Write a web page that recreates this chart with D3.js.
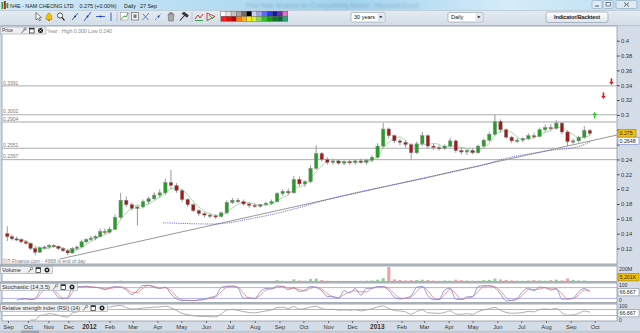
<!DOCTYPE html>
<html><head><meta charset="utf-8">
<script src="https://cdn.jsdelivr.net/npm/d3@7"></script>
<style>
html,body{margin:0;padding:0;background:#d4dde7;}
svg{display:block;font-family:"Liberation Sans",Arial,sans-serif;}
</style></head><body>
<svg id="c" width="640" height="333"></svg>
<script>
// ---------------- DATA (weekly candles) ----------------
const firstWeek = new Date(2011, 7, 29); // Monday of first week shown
const opens = [.140,.136,.133,.132,.129,.127,.120,.115,.121,.122,
 .124,.123,.120,.117,.114,.120,.122,.129,.132,.134,
 .136,.143,.142,.146,.162,.185,.179,.174,.176,.183,
 .187,.192,.195,.209,.205,.198,.186,.179,.171,.167,
 .165,.164,.163,.168,.182,.185,.183,.180,.178,.177,
 .179,.181,.183,.194,.197,.195,.213,.207,.210,.228,
 .248,.240,.236,.238,.235,.237,.236,.238,.236,.239,
 .243,.258,.281,.272,.265,.263,.260,.249,.261,.272,
 .258,.256,.255,.258,.265,.252,.250,.252,.249,.258,
 .266,.274,.291,.280,.270,.265,.266,.268,.272,.271,
 .280,.283,.282,.289,.277,.264,.265,.270,.279];
const highs = [.150,.139,.136,.134,.131,.128,.122,.123,.124,.126,
 .126,.124,.121,.119,.122,.124,.132,.134,.137,.138,
 .147,.147,.149,.166,.195,.190,.182,.178,.186,.190,
 .196,.200,.214,.226,.208,.200,.188,.181,.173,.169,
 .167,.166,.170,.185,.188,.188,.186,.182,.181,.180,
 .183,.186,.196,.200,.201,.218,.217,.212,.232,.259,
 .250,.243,.240,.240,.239,.240,.240,.241,.241,.246,
 .262,.289,.283,.274,.268,.266,.262,.264,.277,.274,
 .261,.259,.260,.269,.267,.256,.254,.255,.260,.268,
 .277,.300,.294,.282,.272,.269,.270,.275,.276,.283,
 .287,.288,.293,.290,.279,.268,.272,.285,.281];
const lows = [.130,.131,.130,.127,.125,.118,.111,.114,.119,.120,
 .121,.118,.115,.111,.113,.117,.121,.127,.130,.131,
 .135,.139,.140,.145,.160,.176,.171,.151,.174,.180,
 .185,.188,.192,.200,.195,.183,.176,.169,.164,.162,
 .161,.160,.162,.166,.180,.181,.178,.175,.175,.175,
 .177,.179,.182,.191,.192,.194,.204,.203,.208,.226,
 .237,.233,.233,.233,.232,.233,.233,.234,.233,.236,
 .241,.256,.268,.262,.259,.256,.239,.247,.258,.255,
 .253,.252,.253,.256,.249,.247,.246,.247,.248,.256,
 .264,.272,.276,.268,.262,.262,.263,.266,.268,.270,
 .277,.279,.280,.274,.258,.261,.263,.268,.272];
const closes = [.136,.133,.132,.129,.127,.120,.115,.121,.122,.124,
 .123,.120,.117,.114,.120,.122,.129,.132,.134,.136,
 .143,.142,.146,.162,.185,.179,.174,.176,.183,.187,
 .192,.195,.209,.205,.198,.186,.179,.171,.167,.165,
 .164,.163,.168,.182,.185,.183,.180,.178,.177,.179,
 .181,.183,.194,.197,.195,.213,.207,.210,.228,.248,
 .240,.236,.238,.235,.237,.236,.238,.236,.239,.243,
 .258,.281,.272,.265,.263,.260,.249,.261,.272,.258,
 .256,.255,.258,.265,.252,.250,.252,.249,.258,.266,
 .274,.291,.280,.270,.265,.266,.268,.272,.271,.280,
 .283,.282,.289,.277,.264,.265,.270,.279,.275];
const volumesM = [3,2,1,2,1,2,3,1,1,2, 1,1,2,1,2,3,2,3,4,2, 3,2,4,5,12,6,4,5,3,4,
 3,6,8,5,3,4,3,2,2,3, 2,3,6,4,3,2,2,3,3,
 4,5,6,18,10,8,30,14,10,35, 40,20,12,8,10,9,8,7,10,12, 15,25,45,210,30,20,15,18,20,25,
 20,12,10,14,12,25,18,14,12,10, 20,22,40,28,22,16,12,10,14,20, 15,12,18,25,16,40,22,15,14,5.2];
const levelValues = [0.3391, 0.3002, 0.2904, 0.2551, 0.2397];
const priceTicks = [0.12,0.14,0.16,0.18,0.2,0.22,0.24,0.26,0.28,0.3,0.32,0.34,0.36,0.38,0.4];
const trendDates = [new Date(2011,10,18), new Date(2013,9,29)];
const trendPrices = [0.1058, 0.2729];
const slowLineDates = [new Date(2012,3,8),new Date(2012,5,10),new Date(2012,6,30),new Date(2012,8,18),
 new Date(2012,9,22),new Date(2012,11,2),new Date(2013,0,14),new Date(2013,1,24),new Date(2013,3,7),
 new Date(2013,4,19),new Date(2013,5,4),new Date(2013,7,2),new Date(2013,8,13),new Date(2013,8,27)];
const slowLineValues = [0.1547,0.1530,0.1607,0.1728,0.1833,0.1943,0.2042,0.2132,0.2234,0.2338,0.2392,0.2513,0.2581,0.2648];
const signalDates = [new Date(2013,9,1), new Date(2013,9,12), new Date(2013,9,22)];
const signalPrices = [0.300, 0.3255, 0.3443];
const signalDirs = ["up","down","down"];
const monthTicks = d3.timeMonth.range(new Date(2011,8,1), new Date(2013,9,2));

// ---------------- SETUP ----------------
const svg = d3.select("#c");
const defs = svg.append("defs");
const PL = 2, PR = 617;
const x = d3.scaleTime()
  .domain([new Date(2011,7,23), new Date(2012,1,1), new Date(2013,9,29)])
  .range([PL, 109.5, PR]);
const y = d3.scaleLinear().domain([0.12, 0.40]).range([248.5, 40.7]);
const dates = closes.map((_, i) => d3.timeDay.offset(firstWeek, 7 * i + 2));
const P = {price:[26,264], vol:[266,281.5], sto:[283,302.5], rsi:[304,321]};

svg.append("rect").attr("width",640).attr("height",333).attr("fill","#d4dde7");

// title bar
const tg = defs.append("linearGradient").attr("id","tg");
[[0,"#d2e9f6"],[0.35,"#b3dcf2"],[0.55,"#a2d4f0"],[0.8,"#d6ecf8"],[1,"#b9ddf0"]]
  .forEach(([o,c]) => tg.append("stop").attr("offset",o).attr("stop-color",c));
svg.append("rect").attr("width",640).attr("height",10).attr("fill","url(#tg)");
defs.append("filter").attr("id","blr").append("feGaussianBlur").attr("stdDeviation",0.8);
svg.append("text").attr("x",246).attr("y",7.5).attr("font-size",6.5).attr("fill","#6f8ea3")
  .attr("opacity",0.55).attr("filter","url(#blr)").text("First Rate Brokers.xls  [Compatibility Mode]  -  Microsoft Excel");
const ti = svg.append("g");
[[1.5,2,"#2f9e2f",7],[4,1,"#c02020",8],[6.5,3,"#2f9e2f",5]].forEach(([xx,yy,c,h]) =>
  ti.append("rect").attr("x",xx).attr("y",yy).attr("width",1.8).attr("height",h).attr("fill",c));
const tt = svg.append("g").attr("font-size",5.4).attr("fill","#1b1b1b");
tt.append("text").attr("x",10).attr("y",7.6).text("N4E - NAM CHEONG LTD");
tt.append("text").attr("x",79.5).attr("y",7.6).text("0.275 (+0.00%)");
tt.append("text").attr("x",124).attr("y",7.6).text("Daily");
tt.append("text").attr("x",140).attr("y",7.6).text("27 Sep");
[[592,10],[603,10],[616,21]].forEach(([bx,bw],i) => {
  svg.append("rect").attr("x",bx).attr("y",0.5).attr("width",bw).attr("height",8).attr("rx",1.5)
    .attr("fill", i===2 ? "#dfe9f2" : "#e2ecf4").attr("stroke","#8aa3b8").attr("stroke-width",0.6);
});
svg.append("line").attr("x1",595).attr("x2",599).attr("y1",6).attr("y2",6).attr("stroke","#456").attr("stroke-width",1);
svg.append("rect").attr("x",606).attr("y",2.5).attr("width",4.5).attr("height",3.5).attr("fill","none").attr("stroke","#456").attr("stroke-width",0.7);
svg.append("path").attr("d","M624,2.5 L629,6.5 M629,2.5 L624,6.5").attr("stroke","#456").attr("stroke-width",0.9);

// toolbar
const tbg = defs.append("linearGradient").attr("id","tbg").attr("x1",0).attr("x2",0).attr("y1",0).attr("y2",1);
[[0,"#e4ebf2"],[1,"#d3dde7"]].forEach(([o,c]) => tbg.append("stop").attr("offset",o).attr("stop-color",c));
svg.append("rect").attr("y",10).attr("width",640).attr("height",16).attr("fill","url(#tbg)");
svg.append("line").attr("x1",0).attr("x2",640).attr("y1",10.5).attr("y2",10.5).attr("stroke","#a9bccb").attr("stroke-width",0.6);
const tb = svg.append("g");
tb.append("path").attr("d","M36,12.5 L36,20 L38,18.3 L39.5,21 L40.5,20.4 L39.2,17.8 L41.5,17.6 Z").attr("fill","#fff").attr("stroke","#333").attr("stroke-width",0.6);
tb.append("path").attr("d","M46,19.5 Q46.5,13 49,13 Q51.5,13 52,19.5 Z").attr("fill","#f2c200").attr("stroke","#9a7a00").attr("stroke-width",0.5);
tb.append("circle").attr("cx",49).attr("cy",20.3).attr("r",0.9).attr("fill","#9a7a00");
tb.append("circle").attr("cx",60).attr("cy",15.5).attr("r",2.6).attr("fill","#eef6ff").attr("stroke","#333").attr("stroke-width",0.8);
tb.append("line").attr("x1",62).attr("y1",17.5).attr("x2",64.5).attr("y2",20.5).attr("stroke","#333").attr("stroke-width",1.2);
[[72,20,78,13],[84,21,91,12]].forEach(([a,b,c,d]) => {
  tb.append("line").attr("x1",a).attr("y1",b).attr("x2",c).attr("y2",d).attr("stroke","#2050d0").attr("stroke-width",0.9);
  tb.append("circle").attr("cx",(a+c)/2).attr("cy",(b+d)/2).attr("r",0.9).attr("fill","#103090");
});
tb.append("line").attr("x1",96).attr("x2",105).attr("y1",16.5).attr("y2",16.5).attr("stroke","#2050d0").attr("stroke-width",0.9);
tb.append("circle").attr("cx",100.5).attr("cy",16.5).attr("r",0.9).attr("fill","#103090");
tb.append("line").attr("x1",111).attr("x2",111).attr("y1",12.5).attr("y2",21).attr("stroke","#2050d0").attr("stroke-width",0.9);
tb.append("line").attr("x1",117).attr("x2",117).attr("y1",12).attr("y2",22).attr("stroke","#aab").attr("stroke-width",0.6);
tb.append("rect").attr("x",120.5).attr("y",12.5).attr("width",7.5).attr("height",7.5).attr("fill","#fff").attr("stroke","#888").attr("stroke-width",0.5);
tb.append("path").attr("d","M121,19.5 L124,16 L126,17 L128,13").attr("fill","none").attr("stroke","#2a9a2a").attr("stroke-width",0.9);
tb.append("rect").attr("x",131.5).attr("y",12.5).attr("width",7).attr("height",7.5).attr("fill","#f4f4f4").attr("stroke","#555").attr("stroke-width",0.6);
tb.append("rect").attr("x",133.5).attr("y",14.5).attr("width",3).attr("height",3.5).attr("fill","#777");
tb.append("path").attr("d","M142.5,20 L149,13 M143,14 L148.5,20").attr("stroke","#4a6ad8").attr("stroke-width",0.9);
tb.append("path").attr("d","M155,20 L162,13").attr("stroke","#4a6ad8").attr("stroke-width",0.9).attr("stroke-dasharray","1.2,0.8");
tb.append("circle").attr("cx",158.5).attr("cy",16.5).attr("r",1).attr("fill","#1a3ab0");
tb.append("path").attr("d","M168,14 L174,14 L173.3,21 L168.7,21 Z").attr("fill","#a8a8a8").attr("stroke","#555").attr("stroke-width",0.5);
tb.append("rect").attr("x",169.5).attr("y",12.5).attr("width",3).attr("height",1.2).attr("fill","#555");
tb.append("path").attr("d","M180,20.5 L184.5,15.5 M182.5,13.5 L187,17 L188,15.5 L184,12.5 Z").attr("stroke","#333").attr("fill","#444").attr("stroke-width",1.1);
tb.append("line").attr("x1",192).attr("x2",192).attr("y1",12).attr("y2",22).attr("stroke","#aab").attr("stroke-width",0.6);
tb.append("path").attr("d","M195,19 L198,15 L200,18 L203,14").attr("fill","none").attr("stroke","#c02020").attr("stroke-width",0.9);
tb.append("line").attr("x1",195).attr("x2",203).attr("y1",20.5).attr("y2",20.5).attr("stroke","#2a9a2a").attr("stroke-width",0.9);
tb.append("path").attr("d","M207,13 L215,16.5 L207,20.5 Z").attr("fill","none").attr("stroke","#c02020").attr("stroke-width",0.8);
tb.append("path").attr("d","M209,15 L213,19").attr("stroke","#2a9a2a").attr("stroke-width",0.8);
const pal1 = ["#ffffff","#e4e4e4","#c4c4c4","#a4a4a4","#6a6a6a","#000000","#c8ccff","#98a4ff","#5a6cff","#2a3ae0","#1418a8","#6a2aa8","#e070c8"];
const pal2 = ["#ff1a1a","#e01010","#b80000","#ff7a10","#ffb020","#ffee00","#d0f040","#80dc50","#30c030","#10a010","#087a20","#106040","#20a878"];
svg.append("rect").attr("x",220.5).attr("y",11).attr("width",67.5).attr("height",10.6).attr("fill","#666");
[pal1, pal2].forEach((row, r) => row.forEach((c, i) =>
  svg.append("rect").attr("x",221 + i*5.15).attr("y",11.5 + r*5.1).attr("width",4.7).attr("height",4.6).attr("fill",c)));
function dropdown(x0, w, label) {
  svg.append("rect").attr("x",x0).attr("y",12.5).attr("width",w).attr("height",9.5).attr("rx",1.5)
    .attr("fill","#fff").attr("stroke","#8d9aa8").attr("stroke-width",0.6);
  svg.append("rect").attr("x",x0+w-7.5).attr("y",13.5).attr("width",6.5).attr("height",7.5).attr("fill","#dfe6ee");
  svg.append("path").attr("d",`M${x0+w-5.8},16.2 L${x0+w-2.6},16.2 L${x0+w-4.2},18.2 Z`).attr("fill","#222");
  svg.append("text").attr("x",x0+3).attr("y",19.3).attr("font-size",5.5).attr("fill","#111").text(label);
}
dropdown(351, 34, "30 years");
dropdown(448, 35, "Daily");
const bg = defs.append("linearGradient").attr("id","btn").attr("x1",0).attr("x2",0).attr("y1",0).attr("y2",1);
[[0,"#ffffff"],[1,"#dde4ec"]].forEach(([o,c]) => bg.append("stop").attr("offset",o).attr("stop-color",c));
svg.append("rect").attr("x",546).attr("y",12).attr("width",62).attr("height",10.5).attr("rx",2.2)
  .attr("fill","url(#btn)").attr("stroke","#8793a2").attr("stroke-width",0.6);
svg.append("text").attr("x",577).attr("y",19.4).attr("text-anchor","middle").attr("font-size",5.6)
  .attr("font-weight","bold").attr("fill","#222").attr("textLength",46).text("Indicator/Backtest");
svg.append("line").attr("x1",0).attr("x2",640).attr("y1",25.7).attr("y2",25.7).attr("stroke","#9fb0c0").attr("stroke-width",0.6);

// ---------------- PANELS ----------------
Object.values(P).forEach(([t,b]) => {
  svg.append("rect").attr("x",PL).attr("y",t).attr("width",PR-PL).attr("height",b-t)
    .attr("fill","#fff").attr("stroke","#8f9aa6").attr("stroke-width",0.8);
});
[[264,266],[281.5,283],[302.5,304]].forEach(([a,b]) =>
  svg.append("rect").attr("x",0).attr("y",a).attr("width",PR).attr("height",b-a).attr("fill","#a9b1ba"));
Object.entries(P).forEach(([k,[t,b]]) => {
  defs.append("clipPath").attr("id","cl-"+k).append("rect").attr("x",PL).attr("y",t).attr("width",PR-PL).attr("height",b-t);
});

// ---------------- PRICE PANEL ----------------
const gp = svg.append("g").attr("clip-path","url(#cl-price)");
levelValues.forEach(v => {
  gp.append("line").attr("x1",PL).attr("x2",PR).attr("y1",y(v)).attr("y2",y(v))
    .attr("stroke", v===0.2904 ? "#c4c4c4" : "#a2a2a2").attr("stroke-width", v===0.2904 ? 1.6 : 0.9);
  gp.append("text").attr("x",3).attr("y",y(v)-1.3).attr("font-size",5).attr("fill","#7a7a7a").text(v.toFixed(4));
});
gp.append("line").attr("x1",x(trendDates[0])).attr("y1",y(trendPrices[0]))
  .attr("x2",x(trendDates[1])).attr("y2",y(trendPrices[1])).attr("stroke","#8b8b8b").attr("stroke-width",0.9);
gp.append("path").datum(slowLineDates.map((d,i)=>[d, slowLineValues[i]]))
  .attr("d", d3.line().x(d=>x(d[0])).y(d=>y(d[1])).curve(d3.curveMonotoneX))
  .attr("fill","none").attr("stroke","#5c5ce0").attr("stroke-width",0.9).attr("stroke-dasharray","1.1,1.1");
const ma = closes.map((c,i) => i < 3 ? null : d3.mean(closes.slice(i-3, i+1)));
gp.append("path").datum(ma)
  .attr("d", d3.line().defined(d=>d!=null).x((d,i)=>x(dates[i])).y(d=>y(d)).curve(d3.curveMonotoneX))
  .attr("fill","none").attr("stroke","#93cf93").attr("stroke-width",0.8);
const cw = 3.4;
const cg = gp.selectAll("g.c").data(closes).join("g");
cg.append("line").attr("x1",(d,i)=>x(dates[i])).attr("x2",(d,i)=>x(dates[i]))
  .attr("y1",(d,i)=>y(highs[i])).attr("y2",(d,i)=>y(lows[i])).attr("stroke","#999").attr("stroke-width",1);
cg.append("rect").attr("x",(d,i)=>x(dates[i])-cw/2).attr("width",cw)
  .attr("y",(d,i)=>y(Math.max(opens[i],closes[i])))
  .attr("height",(d,i)=>Math.max(1.2, Math.abs(y(opens[i])-y(closes[i]))))
  .attr("fill",(d,i)=> closes[i] >= opens[i] ? "#23a023" : "#a31818")
  .attr("stroke","#8a8a8a").attr("stroke-width",0.5);
signalDates.forEach((d,i) => {
  const cx = x(d), cy = y(signalPrices[i]);
  const up = signalDirs[i] === "up";
  const s = up ? -1 : 1;
  const col = up ? "#22cc22" : "#e01818";
  svg.append("path").attr("d",`M${cx-0.8},${cy-3.5*s} L${cx+0.8},${cy-3.5*s} L${cx+0.8},${cy} L${cx+2.2},${cy} L${cx},${cy+3*s} L${cx-2.2},${cy} L${cx-0.8},${cy} Z`)
    .attr("fill",col);
});
function header(y0, w, label, tl) {
  const g = svg.append("g");
  g.append("rect").attr("x",0.5).attr("y",y0).attr("width",w).attr("height",7).attr("fill","#eef0f3").attr("stroke","#9ba4ae").attr("stroke-width",0.6);
  g.append("text").attr("x",2).attr("y",y0+5.4).attr("font-size",5).attr("fill","#333").attr("textLength",tl).attr("lengthAdjust","spacingAndGlyphs").text(label);
  const ix = w - 25;
  g.append("path").attr("d",`M${ix+1},${y0+6} L${ix+4},${y0+2.5}`).attr("stroke","#555").attr("stroke-width",0.8);
  g.append("circle").attr("cx",ix+4.6).attr("cy",y0+2).attr("r",1.2).attr("fill","none").attr("stroke","#555").attr("stroke-width",0.6);
  g.append("rect").attr("x",ix+9).attr("y",y0+1.2).attr("width",4.6).attr("height",4.8).attr("fill","#fff").attr("stroke","#222").attr("stroke-width",0.7);
  g.append("rect").attr("x",ix+9).attr("y",y0+1.2).attr("width",4.6).attr("height",1.2).attr("fill","#222");
  g.append("circle").attr("cx",ix+20).attr("cy",y0+3.5).attr("r",2.5).attr("fill","#222");
  g.append("path").attr("d",`M${ix+18.9},${y0+2.4} L${ix+21.1},${y0+4.6} M${ix+21.1},${y0+2.4} L${ix+18.9},${y0+4.6}`).attr("stroke","#fff").attr("stroke-width",0.7);
}
header(27, 45.5, "Price", 11);
svg.append("text").attr("x",47).attr("y",32.6).attr("font-size",5.3).attr("fill","#8a8a8a").attr("textLength",65).text("Year : High 0.300 Low 0.240");
svg.append("text").attr("x",2.5).attr("y",262.6).attr("font-size",5).attr("fill","#7a7a7a").attr("textLength",83).text("©IT-Finance.com - 4968 is end of day");

const lastClose = closes[closes.length-1], lastSlow = slowLineValues[slowLineValues.length-1];
const ax = svg.append("g").attr("transform",`translate(${PR},0)`)
  .call(d3.axisRight(y).tickValues(priceTicks).tickSize(2.5).tickPadding(1.5)
    .tickFormat(d => (Math.abs(d-lastClose) < 0.008 || Math.abs(d-lastSlow) < 0.008) ? "" : String(+d.toFixed(2))));
ax.select(".domain").remove();
ax.selectAll("line").attr("stroke","#444");
ax.selectAll("text").attr("font-size",5.8).attr("fill","#333").attr("font-family","Liberation Sans, Arial, sans-serif");
function valBox(yy, txt, fill, stroke, w) {
  svg.append("rect").attr("x",618).attr("y",yy-3.8).attr("width",w).attr("height",7.4).attr("fill",fill).attr("stroke",stroke).attr("stroke-width",0.6);
  svg.append("text").attr("x",619.5).attr("y",yy+1.9).attr("font-size",5.3).attr("fill","#222").text(txt);
}
valBox(y(lastClose), "0.275", "#f4c20d", "#9c7c00", 18);
valBox(y(lastSlow), "0.2648", "#ffffff", "#6a7fd0", 21);

// ---------------- VOLUME ----------------
const yV = d3.scaleLinear().domain([0,200]).range([P.vol[1], P.vol[0]+1]).clamp(true);
const gv = svg.append("g").attr("clip-path","url(#cl-vol)");
gv.selectAll("rect").data(volumesM).join("rect")
  .attr("x",(d,i)=>x(dates[i])-1.5).attr("width",3)
  .attr("y",d=>yV(d)).attr("height",d=>P.vol[1]-yV(d))
  .attr("fill",(d,i)=> closes[i] >= opens[i] ? "#8fd08f" : "#f3a0a0");
header(266.5, 52, "Volume", 19);
svg.append("text").attr("x",619).attr("y",271).attr("font-size",5.3).attr("fill","#333").text("200M");
valBox(277.3, "5,201K", "#f4c20d", "#9c7c00", 21);

// ---------------- STOCHASTIC ----------------
const yS = d3.scaleLinear().domain([0,100]).range([P.sto[1]-0.5, P.sto[0]+1]);
const stoK = closes.map((c,i) => {
  if (i < 2) return null;
  const lo = d3.min(lows.slice(i-2,i+1)), hi = d3.max(highs.slice(i-2,i+1));
  return hi > lo ? 100*(c-lo)/(hi-lo) : 50;
});
const stoD = stoK.map((v,i) => (i < 3) ? null : (stoK[i] + stoK[i-1]) / 2);
const gs = svg.append("g").attr("clip-path","url(#cl-sto)");
[80,20].forEach(v => gs.append("line").attr("x1",PL).attr("x2",PR).attr("y1",yS(v)).attr("y2",yS(v)).attr("stroke","#a9a9ee").attr("stroke-width",0.9));
const lineS = d3.line().defined(d=>d!=null).x((d,i)=>x(dates[i])).y(d=>yS(d)).curve(d3.curveMonotoneX);
gs.append("path").datum(stoD).attr("d",lineS).attr("fill","none").attr("stroke","#f08a8a").attr("stroke-width",0.9);
gs.append("path").datum(stoK).attr("d",lineS).attr("fill","none").attr("stroke","#7f86c8").attr("stroke-width",0.8);
header(283.5, 77, "Stochastic (14,3,5)", 48);
svg.append("text").attr("x",619).attr("y",287.2).attr("font-size",5).attr("fill","#333").text("100");
valBox(292.3, "66.667", "#ffffff", "#7d8aa0", 21);
svg.append("text").attr("x",619).attr("y",301.6).attr("font-size",5).attr("fill","#333").text("0");

// ---------------- RSI ----------------
function rsi(cl, n) {
  const out = cl.map(() => null);
  let g = 0, l = 0;
  for (let i = 1; i <= n; i++) { const d = cl[i]-cl[i-1]; if (d > 0) g += d; else l -= d; }
  g /= n; l /= n; out[n] = l === 0 ? 100 : 100 - 100/(1+g/l);
  for (let i = n+1; i < cl.length; i++) {
    const d = cl[i]-cl[i-1];
    g = (g*(n-1) + Math.max(d,0))/n; l = (l*(n-1) + Math.max(-d,0))/n;
    out[i] = l === 0 ? 100 : 100 - 100/(1+g/l);
  }
  return out;
}
const rsiVals = rsi(closes, 5);
const yR = d3.scaleLinear().domain([0,100]).range([P.rsi[1]-1, P.rsi[0]+1]);
const gr = svg.append("g").attr("clip-path","url(#cl-rsi)");
[70,30].forEach(v => gr.append("line").attr("x1",PL).attr("x2",PR).attr("y1",yR(v)).attr("y2",yR(v)).attr("stroke","#a9a9ee").attr("stroke-width",0.9));
gr.append("path").datum(rsiVals)
  .attr("d", d3.line().defined(d=>d!=null).x((d,i)=>x(dates[i])).y(d=>yR(d)).curve(d3.curveMonotoneX))
  .attr("fill","none").attr("stroke","#9a9a9a").attr("stroke-width",0.8);
header(304.5, 107, "Relative strength index (RSI) (14)", 78);
svg.append("text").attr("x",619).attr("y",308.2).attr("font-size",5).attr("fill","#333").text("100");
valBox(313.3, "66.667", "#ffffff", "#7d8aa0", 21);
svg.append("text").attr("x",619).attr("y",321.5).attr("font-size",5).attr("fill","#333").text("0");

// ---------------- X AXIS ----------------
const xa = svg.append("g").attr("transform",`translate(0,${P.rsi[1]})`)
  .call(d3.axisBottom(x).tickValues(monthTicks).tickSize(2).tickPadding(1.5)
    .tickFormat(d => d.getMonth() === 0 ? d3.timeFormat("%Y")(d) : d3.timeFormat("%b")(d)));
xa.select(".domain").remove();
xa.selectAll("line").attr("stroke","#666");
xa.selectAll("text").attr("fill","#333").attr("font-family","Liberation Sans, Arial, sans-serif")
  .attr("font-weight", d => d.getMonth() === 0 ? "bold" : "normal")
  .attr("font-size", d => d.getMonth() === 0 ? 6.5 : 5.8);
svg.append("rect").attr("x",0).attr("y",330.5).attr("width",640).attr("height",2.5).attr("fill","#c2cbd4");
svg.append("rect").attr("x",21).attr("y",330.5).attr("width",18).attr("height",2.5).attr("fill","#9aa5b1");
</script>
</body></html>
